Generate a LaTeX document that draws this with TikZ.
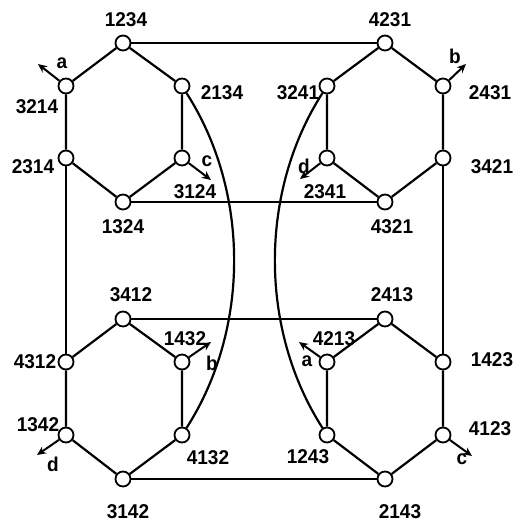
\documentclass[tikz,border=0pt]{standalone}
\usepackage{fontspec}
\setmainfont{Liberation Sans}
\usetikzlibrary{arrows.meta}
\begin{document}
\begin{tikzpicture}[x=1pt,y=-1pt,
  vtx/.style={circle,draw,fill=white,line width=1.8pt,minimum size=15pt,inner sep=0pt},
  lbl/.style={font=\fontsize{19}{19}\selectfont\bfseries,inner sep=0pt,yscale=1.05},
  edge/.style={line width=2.2pt},
  gen/.style={line width=2pt,-{Stealth[length=9pt,width=8pt]}}]
\useasboundingbox (0,0) rectangle (515,522);

% vertices: upper left hexagon
\node[vtx] (v1234) at (123,43) {};
\node[vtx] (v3214) at (66,86) {};
\node[vtx] (v2134) at (182,86) {};
\node[vtx] (v2314) at (66,158) {};
\node[vtx] (v3124) at (182,158) {};
\node[vtx] (v1324) at (123,202) {};
% upper right hexagon
\node[vtx] (v4231) at (385,43) {};
\node[vtx] (v3241) at (327,86) {};
\node[vtx] (v2431) at (443,86) {};
\node[vtx] (v2341) at (327,158) {};
\node[vtx] (v3421) at (443,158) {};
\node[vtx] (v4321) at (385,202) {};
% lower left hexagon
\node[vtx] (v3412) at (123,319) {};
\node[vtx] (v4312) at (66,362) {};
\node[vtx] (v1432) at (182,362) {};
\node[vtx] (v1342) at (66,435) {};
\node[vtx] (v4132) at (182,435) {};
\node[vtx] (v3142) at (123,479) {};
% lower right hexagon
\node[vtx] (v2413) at (385,319) {};
\node[vtx] (v4213) at (327,362) {};
\node[vtx] (v1423) at (443,362) {};
\node[vtx] (v1243) at (327,435) {};
\node[vtx] (v4123) at (443,435) {};
\node[vtx] (v2143) at (385,479) {};

% hexagon edges
\draw[edge] (v1234)--(v3214)--(v2314)--(v1324)--(v3124)--(v2134)--(v1234);
\draw[edge] (v4231)--(v3241)--(v2341)--(v4321)--(v3421)--(v2431)--(v4231);
\draw[edge] (v3412)--(v4312)--(v1342)--(v3142)--(v4132)--(v1432)--(v3412);
\draw[edge] (v2413)--(v4213)--(v1243)--(v2143)--(v4123)--(v1423)--(v2413);

% edges between hexagons
\draw[edge] (v1234)--(v4231);
\draw[edge] (v1324)--(v4321);
\draw[edge] (v3412)--(v2413);
\draw[edge] (v3142)--(v2143);
\draw[edge] (v2314)--(v4312);
\draw[edge] (v3421)--(v1423);
\draw[edge] (v2134) .. controls +(68,106) and +(68,-106) .. (v4132);
\draw[edge] (v3241) .. controls +(-68,106) and +(-68,-106) .. (v1243);

% generator arrows
\coordinate (ta1) at (38,64);
\coordinate (tc1) at (211,180);
\coordinate (tb1) at (466,64);
\coordinate (td1) at (300,179);
\coordinate (tb2) at (211,342);
\coordinate (td2) at (37,455);
\coordinate (ta2) at (299,342);
\coordinate (tc2) at (472,456);
\draw[gen] (v3214)--(ta1);
\draw[gen] (v3124)--(tc1);
\draw[gen] (v2431)--(tb1);
\draw[gen] (v2341)--(td1);
\draw[gen] (v1432)--(tb2);
\draw[gen] (v1342)--(td2);
\draw[gen] (v4213)--(ta2);
\draw[gen] (v4123)--(tc2);

\node[lbl] (ga1) at (62,63) {a};
\node[lbl] (gc1) at (207,161) {c};
\node[lbl] (gb1) at (455,56) {b};
\node[lbl] (gd1) at (304,166) {d};
\node[lbl] (gb2) at (212,363) {b};
\node[lbl] (gd2) at (53,464) {d};
\node[lbl] (ga2) at (307,361) {a};
\node[lbl] (gc2) at (462,459) {c};

% permutation labels
\node[lbl] (l1234) at (126,20) {1234};
\node[lbl] (l3214) at (37,107) {3214};
\node[lbl] (l2134) at (222,93) {2134};
\node[lbl] (l2314) at (33,167) {2314};
\node[lbl] (l3124) at (195,192) {3124};
\node[lbl] (l1324) at (123,227) {1324};
\node[lbl] (l4231) at (390,20) {4231};
\node[lbl] (l3241) at (298,93) {3241};
\node[lbl] (l2431) at (490,93) {2431};
\node[lbl] (l2341) at (325,192) {2341};
\node[lbl] (l3421) at (492,167) {3421};
\node[lbl] (l4321) at (392,227) {4321};
\node[lbl] (l3412) at (131,295) {3412};
\node[lbl] (l4312) at (35,362) {4312};
\node[lbl] (l1432) at (185,339) {1432};
\node[lbl] (l1342) at (38,425) {1342};
\node[lbl] (l4132) at (208,458) {4132};
\node[lbl] (l3142) at (128,512) {3142};
\node[lbl] (l2413) at (392,295) {2413};
\node[lbl] (l4213) at (334,339) {4213};
\node[lbl] (l1423) at (492,360) {1423};
\node[lbl] (l1243) at (308,457) {1243};
\node[lbl] (l4123) at (490,429) {4123};
\node[lbl] (l2143) at (400,512) {2143};
\end{tikzpicture}
\end{document}
